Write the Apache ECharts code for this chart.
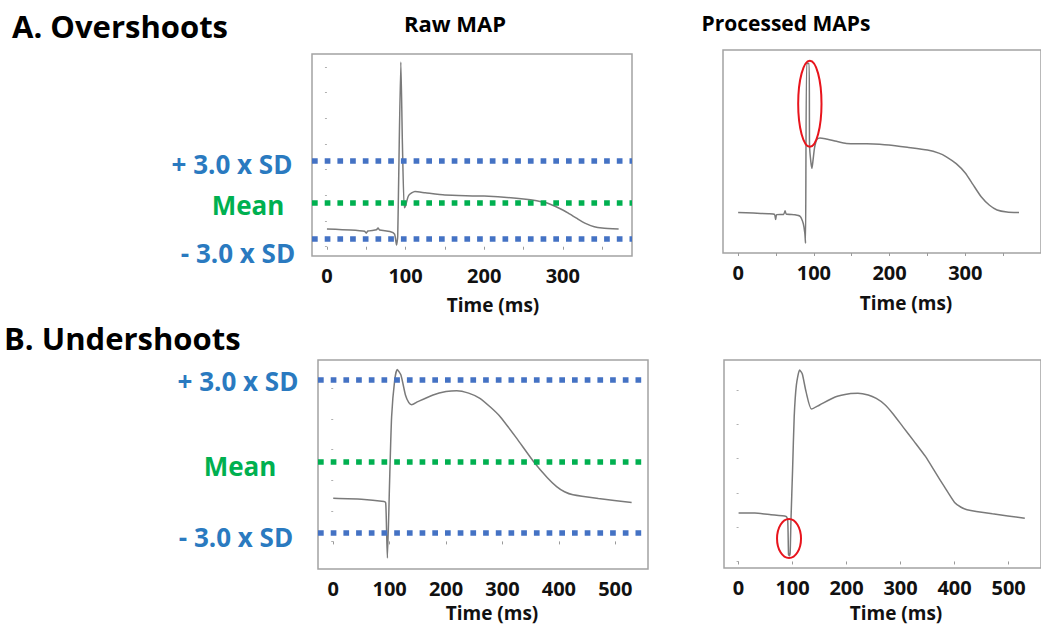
<!DOCTYPE html>
<html>
<head>
<meta charset="utf-8">
<script src="https://cdn.jsdelivr.net/npm/echarts@6/dist/echarts.min.js"></script>
<style>
html,body{margin:0;padding:0;background:#fff;}
#chart{width:1041px;height:626px;}
</style>
</head>
<body>
<div id="chart"></div>
<script>
// ---------- DATA ----------
// Time ticks (ms)
const tickLabelsA = [0, 100, 200, 300];
const tickMarksA = [0, 50, 100, 150, 200, 250, 300, 350];
const tickLabelsB = [0, 100, 200, 300, 400, 500];
const tickMarksB = [0, 100, 200, 300, 400, 500];
const yTicksRawA = [0, 10, 20, 30, 40, 50, 60, 70];
const yTicksB = [0, 10, 20, 30, 40, 50];

// A. Overshoots - raw MAP trace [time ms, amplitude]
const rawOverTrace = [
  [0, 6.9], [30, 6.5], [48, 6.0], [50, 5.3], [52, 6.1], [63, 6.6], [65, 7.3], [67, 6.5],
  [80, 5.9], [86, 4.9], [88.5, 0.7], [90, 4.0], [94, 71.9], [96, 40], [98.3, 15.2],
  [100, 16.0], [104, 20.0], [112, 21.5], [125, 21.0], [150, 20.1], [200, 19.7],
  [250, 18.6], [280, 17.0], [300, 14.3], [307, 13.1], [318, 11.0], [328, 9.2],
  [340, 7.8], [350, 7.3], [371, 6.9]
];
// +3SD, mean, -3SD levels
const rawOverLevels = [33.3, 17.0, 3.0];

// A. Overshoots - processed MAP trace
const procOverTrace = [
  [0, 19.9], [20, 19.7], [40, 19.3], [48, 19.0], [49.5, 16.5], [51, 18.9], [60, 19.0],
  [62, 20.8], [63.5, 19.2], [75, 18.8], [82, 18.0], [86, 14.5], [88, 10.0], [89, 4.8],
  [90.5, 93.4], [93.8, 93.4], [94.3, 53.0], [96, 45.0], [97.5, 41.7], [99, 46.0],
  [101, 52.0], [104, 56.0], [108, 56.7], [115, 56.3], [130, 55.0], [143, 54.0],
  [170, 53.8], [199, 53.2], [225, 52.0], [250, 50.7], [265, 49.2], [275, 47.4],
  [288, 44.0], [300, 39.4], [310, 33.8], [321, 27.7], [332, 23.5], [342, 21.2],
  [355, 20.2], [371, 19.9]
];
// highlight ellipse [centre time, centre amp, half-width ms, half-height amp]
const procOverHighlight = [[94.7, 73.5, 15.4, 21.2]];

// B. Undershoots - raw MAP trace
const rawUnderTrace = [
  [0, 14.1], [50, 13.8], [90, 13.0], [93, 12.6], [94.5, 4.0], [96, -5.4], [100, 20.0],
  [103.5, 40.7], [109, 52.7], [113.5, 56.1], [120, 54.3], [128, 47.8], [134, 45.3],
  [139, 44.6], [150, 45.6], [177, 47.8], [200, 48.9], [219, 49.2], [240, 48.4],
  [260, 46.7], [280, 43.6], [296, 40.7], [325, 33.7], [355, 26.1], [380, 20.7],
  [396, 17.9], [410, 16.2], [425, 15.2], [470, 14.0], [529, 12.7]
];
const rawUnderLevels = [52.9, 26.0, 2.9];

// B. Undershoots - processed MAP trace
const procUnderTrace = [
  [0, 14.1], [30, 14.1], [60, 13.6], [88, 13.1], [91, 12.1], [92.5, 2.0], [94, 1.7],
  [95.5, 2.5], [97, 12.0], [100, 26.7], [103, 42.2], [107, 51.4], [113, 55.8],
  [118, 54.6], [125, 49.4], [135, 44.4], [150, 45.6], [180, 48.0], [205, 48.9],
  [221, 49.0], [240, 48.5], [255, 47.5], [270, 45.8], [285, 43.2], [304, 39.3],
  [325, 35.0], [346, 30.6], [365, 25.8], [381, 21.8], [400, 17.2], [412, 15.8],
  [423, 15.1], [470, 13.9], [530, 12.6]
];
const procUnderHighlight = [[93.4, 6.7, 22.2, 5.7]];

const levelNames = ['+ 3.0 x SD', 'Mean', '- 3.0 x SD'];

// ---------- STYLE ----------
const FONT = '"Open Sans", "DejaVu Sans", sans-serif';
const TRACE = '#7a7a7a';
const BORDER = '#a3a3a3';
const BLUE_LINE = '#4472c4';
const GREEN_LINE = '#00b050';
const BLUE_TEXT = '#2a7ac0';
const GREEN_TEXT = '#00b050';
const levelColors = [BLUE_LINE, GREEN_LINE, BLUE_LINE];

const chart = echarts.init(document.getElementById('chart'), null, {renderer: 'svg'});

function gridBox(left, top, width, height) {
  return {left, top, width, height, show: true, borderColor: BORDER, borderWidth: 1.5,
    backgroundColor: 'transparent', containLabel: false};
}
function xAx(gi, min, max, labels, marks) {
  return {
    type: 'value', gridIndex: gi, min, max,
    axisLine: {show: false},
    splitLine: {show: false},
    axisTick: {show: true, customValues: marks, length: 3, lineStyle: {color: '#9a9a9a', width: 1}},
    axisLabel: {show: true, customValues: labels, fontFamily: FONT, fontWeight: 'bold',
      fontSize: 20, color: '#111', margin: 9}
  };
}
function yAx(gi, min, max, ticks) {
  return {
    type: 'value', gridIndex: gi, min, max,
    axisLine: {show: false},
    splitLine: {show: false},
    axisTick: {show: !!ticks, customValues: ticks || [], length: 2, lineStyle: {color: '#b0b0b0', width: 1}},
    axisLabel: {show: false}
  };
}
function trace(gi, data, levels) {
  const s = {
    type: 'line', xAxisIndex: gi, yAxisIndex: gi, data,
    showSymbol: false, symbol: 'none', smooth: 0.2, animation: false, silent: true,
    lineStyle: {color: TRACE, width: 1.5}, z: 3
  };
  if (levels) {
    s.markLine = {
      silent: true, symbol: ['none', 'none'], animation: false,
      label: {show: false},
      data: levels.map((v, i) => ({yAxis: v, lineStyle: {color: levelColors[i], width: 5.5, type: [5.7, 7], cap: 'butt'}}))
    };
  }
  return s;
}
function ellipse(gi, data) {
  return {
    type: 'custom', xAxisIndex: gi, yAxisIndex: gi, data, silent: true, animation: false, z: 5,
    renderItem: function (params, api) {
      const c = api.coord([api.value(0), api.value(1)]);
      const s = api.size([api.value(2), api.value(3)]);
      return {type: 'ellipse', shape: {cx: c[0], cy: c[1], rx: s[0], ry: s[1]},
        style: {fill: 'none', stroke: '#e8141c', lineWidth: 2}};
    }
  };
}
function txt(text, x, y, size, color, align) {
  return {type: 'text', x, y, silent: true,
    style: {text, fill: color, font: 'bold ' + size + 'px ' + FONT,
      align: align || 'center', verticalAlign: 'middle', textAlign: align || 'center', textVerticalAlign: 'middle'}};
}

const option = {
  backgroundColor: '#ffffff',
  animation: false,
  grid: [
    gridBox(312, 54, 320, 202),
    gridBox(723, 50, 332, 203),
    gridBox(318, 360, 330, 209),
    gridBox(724, 360, 330, 208)
  ],
  xAxis: [
    xAx(0, -19, 388, tickLabelsA, tickMarksA),
    xAx(1, -20, 400, tickLabelsA, tickMarksA),
    xAx(2, -27, 558, tickLabelsB, tickMarksB),
    xAx(3, -27, 560, tickLabelsB, tickMarksB)
  ],
  yAxis: [
    yAx(0, -3.6, 75, yTicksRawA),
    yAx(1, 0, 100, null),
    yAx(2, -9, 59.2, yTicksB),
    yAx(3, -1.9, 58.7, yTicksB)
  ],
  series: [
    trace(0, rawOverTrace, rawOverLevels),
    trace(1, procOverTrace, null),
    ellipse(1, procOverHighlight),
    trace(2, rawUnderTrace, rawUnderLevels),
    trace(3, procUnderTrace, null),
    ellipse(3, procUnderHighlight)
  ],
  graphic: [
    txt('A. Overshoots', 12, 26, 31, '#000', 'left'),
    txt('B. Undershoots', 4, 338, 31, '#000', 'left'),
    txt('Raw MAP', 455, 23, 22, '#000'),
    txt('Processed MAPs', 786, 23, 21, '#000'),
    txt(levelNames[0], 232, 164, 26, BLUE_TEXT),
    txt(levelNames[1], 248, 205, 26, GREEN_TEXT),
    txt(levelNames[2], 238, 253, 26, BLUE_TEXT),
    txt(levelNames[0], 238, 381, 26, BLUE_TEXT),
    txt(levelNames[1], 240, 466, 26, GREEN_TEXT),
    txt(levelNames[2], 236, 537, 26, BLUE_TEXT),
    txt('Time (ms)', 493, 305, 19, '#111'),
    txt('Time (ms)', 906, 303, 19, '#111'),
    txt('Time (ms)', 492, 613, 19, '#111'),
    txt('Time (ms)', 896, 613, 19, '#111')
  ]
};
chart.setOption(option);
</script>
</body>
</html>
